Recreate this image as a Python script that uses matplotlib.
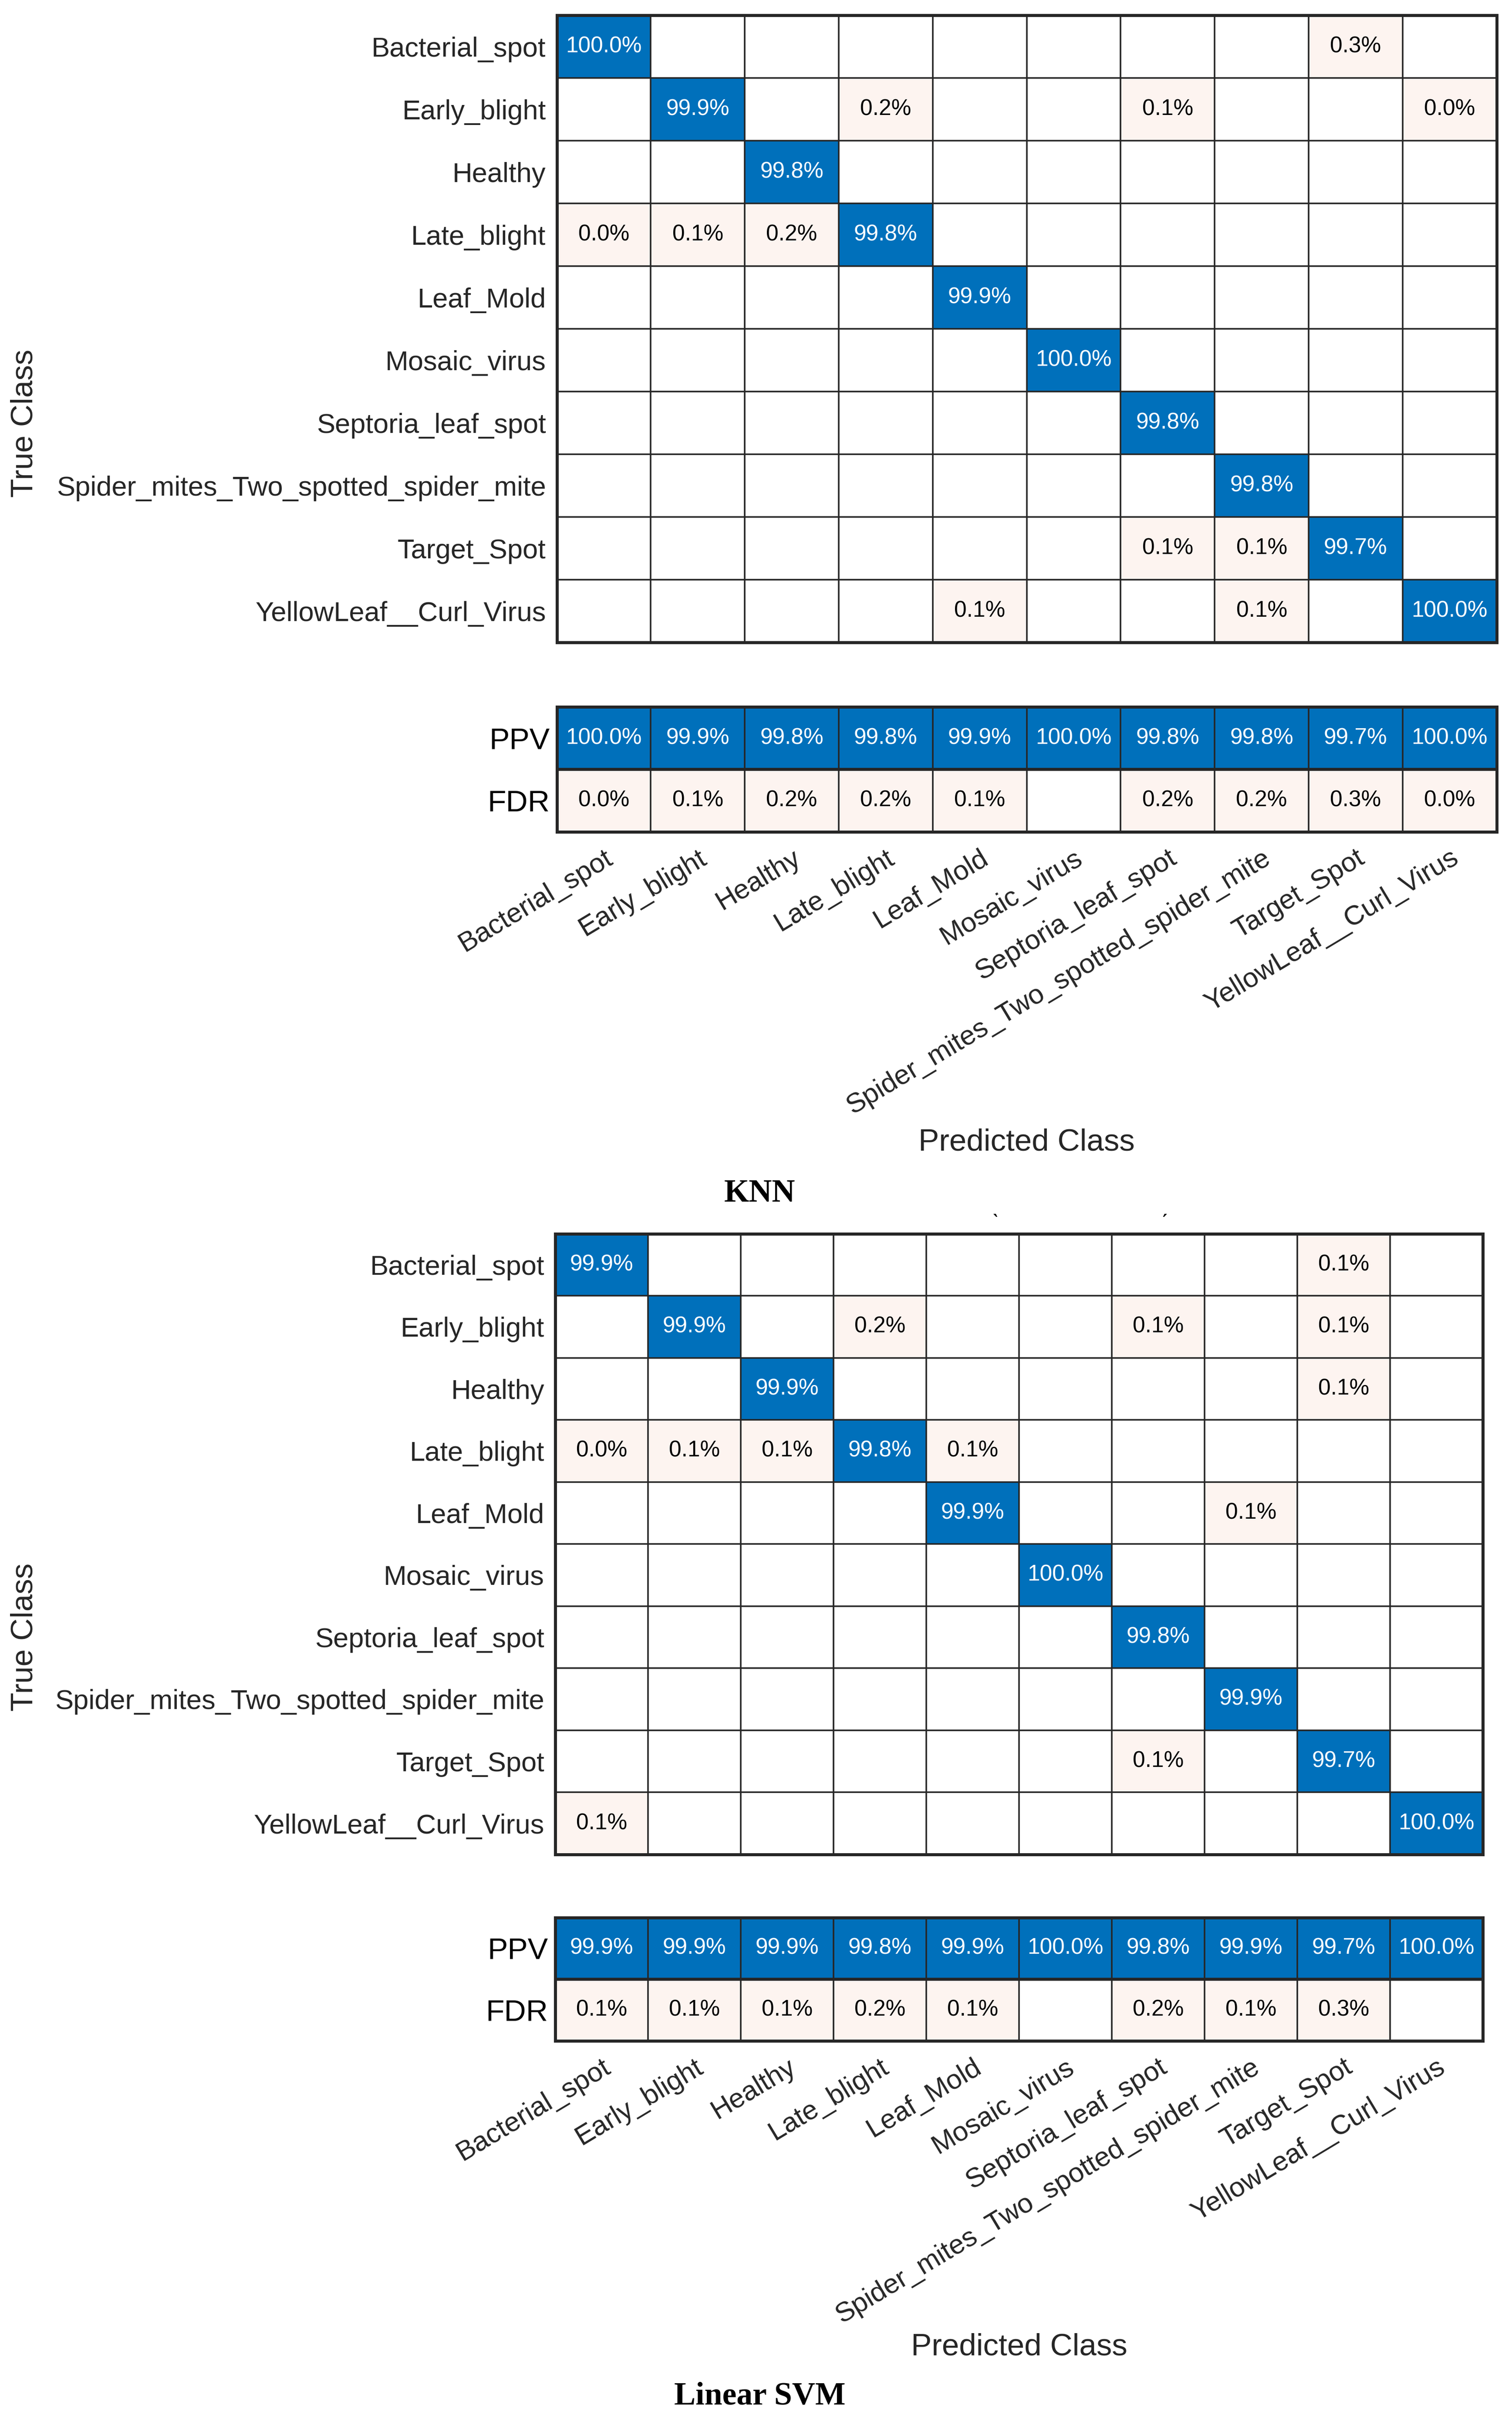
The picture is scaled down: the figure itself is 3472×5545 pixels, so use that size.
import numpy as np
import matplotlib.pyplot as plt
from matplotlib.colors import to_rgb

plt.rcParams['font.family'] = ['Liberation Sans', 'DejaVu Sans']

classes = ['Bacterial_spot', 'Early_blight', 'Healthy', 'Late_blight', 'Leaf_Mold',
           'Mosaic_virus', 'Septoria_leaf_spot', 'Spider_mites_Two_spotted_spider_mite',
           'Target_Spot', 'YellowLeaf__Curl_Virus']
n = np.nan

# column-normalized percentages, rows = true class, cols = predicted class
knn_cm = np.array([
    [100.0, n, n, n, n, n, n, n, 0.3, n],
    [n, 99.9, n, 0.2, n, n, 0.1, n, n, 0.0],
    [n, n, 99.8, n, n, n, n, n, n, n],
    [0.0, 0.1, 0.2, 99.8, n, n, n, n, n, n],
    [n, n, n, n, 99.9, n, n, n, n, n],
    [n, n, n, n, n, 100.0, n, n, n, n],
    [n, n, n, n, n, n, 99.8, n, n, n],
    [n, n, n, n, n, n, n, 99.8, n, n],
    [n, n, n, n, n, n, 0.1, 0.1, 99.7, n],
    [n, n, n, n, 0.1, n, n, 0.1, n, 100.0],
])
knn_ppv = [100.0, 99.9, 99.8, 99.8, 99.9, 100.0, 99.8, 99.8, 99.7, 100.0]
knn_fdr = [0.0, 0.1, 0.2, 0.2, 0.1, n, 0.2, 0.2, 0.3, 0.0]

svm_cm = np.array([
    [99.9, n, n, n, n, n, n, n, 0.1, n],
    [n, 99.9, n, 0.2, n, n, 0.1, n, 0.1, n],
    [n, n, 99.9, n, n, n, n, n, 0.1, n],
    [0.0, 0.1, 0.1, 99.8, 0.1, n, n, n, n, n],
    [n, n, n, n, 99.9, n, n, 0.1, n, n],
    [n, n, n, n, n, 100.0, n, n, n, n],
    [n, n, n, n, n, n, 99.8, n, n, n],
    [n, n, n, n, n, n, n, 99.9, n, n],
    [n, n, n, n, n, n, 0.1, n, 99.7, n],
    [0.1, n, n, n, n, n, n, n, n, 100.0],
])
svm_ppv = [99.9, 99.9, 99.9, 99.8, 99.9, 100.0, 99.8, 99.9, 99.7, 100.0]
svm_fdr = [0.1, 0.1, 0.1, 0.2, 0.1, n, 0.2, 0.1, 0.3, n]

BLUE = '#0070BB'
PINK = '#FDF4F0'
EDGE = '#262626'
LABEL = '#262626'
W, H = 3472, 5545


def cell_colors(vals):
    vals = np.atleast_2d(vals)
    img = np.ones(vals.shape + (3,))
    img[vals > 50] = to_rgb(BLUE)
    img[(vals <= 50) & ~np.isnan(vals)] = to_rgb(PINK)
    return img


def fill_cells(ax, vals, fs=37):
    vals = np.atleast_2d(vals)
    nr, nc = vals.shape
    ax.imshow(cell_colors(vals), aspect='auto', interpolation='nearest',
              extent=(-0.5, nc - 0.5, nr - 0.5, -0.5))
    for i in range(nr):
        for j in range(nc):
            v = vals[i, j]
            if np.isnan(v):
                continue
            ax.text(j, i, f'{v:.1f}%', ha='center', va='center', fontsize=fs,
                    color='white' if v > 50 else 'black')
    ax.vlines(np.arange(nc - 1) + 0.5, -0.5, nr - 0.5, color=EDGE, lw=2.6)
    ax.hlines(np.arange(nr - 1) + 0.5, -0.5, nc - 0.5, color=EDGE,
              lw=2.6 if nr > 2 else 5)
    for s in ax.spines.values():
        s.set_color(EDGE)
        s.set_linewidth(5)
    ax.set_xlim(-0.5, nc - 0.5)
    ax.set_ylim(nr - 0.5, -0.5)
    ax.tick_params(length=0)


def px(x0, y0, x1, y1):
    # display-scale box (983 x 1568 preview) -> figure fraction
    sx, sy = 983.0, 1568.0
    return [x0 / sx, 1 - y1 / sy, (x1 - x0) / sx, (y1 - y0) / sy]


def draw_chart(fig, cm, ppv, fdr, mbox, sbox, pred_y, true_y, title, title_y):
    ax = fig.add_axes(px(*mbox))
    fill_cells(ax, cm)
    ax.set_xticks([])
    ax.set_yticks(range(len(classes)))
    ax.set_yticklabels(classes, fontsize=45.5, color=LABEL)
    ax.tick_params(axis='y', pad=18)

    ax2 = fig.add_axes(px(*sbox))
    fill_cells(ax2, np.array([ppv, fdr]))
    ax2.set_yticks([0, 1])
    ax2.set_yticklabels(['PPV', 'FDR'], fontsize=50, color='black')
    ax2.tick_params(axis='y', pad=12)
    ax2.set_xticks(range(len(classes)))
    ax2.set_xticklabels(classes, fontsize=45.5, color=LABEL, rotation=31,
                        ha='right', va='top', rotation_mode='anchor')
    ax2.tick_params(axis='x', pad=22)

    fig.text((mbox[0] + mbox[2]) / 2 / 983.0 + 0.0, 1 - pred_y / 1568.0, 'Predicted Class',
             ha='center', va='center', fontsize=51, color=LABEL)
    fig.text(16 / 983.0, 1 - true_y / 1568.0, 'True Class', rotation=90,
             ha='center', va='center', fontsize=51, color=LABEL)
    fig.text(494 / 983.0, 1 - title_y / 1568.0, title, ha='center', va='center',
             fontsize=53, fontweight='bold', family='Liberation Serif')


fig = plt.figure(figsize=(W / 100, H / 100), dpi=100)

draw_chart(fig, knn_cm, knn_ppv, knn_fdr, (362, 10, 973, 417), (362, 459, 973, 540),
           742, 275, 'KNN', 775)
draw_chart(fig, svm_cm, svm_ppv, svm_fdr, (361, 801, 964, 1204), (361, 1245, 964, 1325),
           1524, 1063, 'Linear SVM', 1556)

# small stray marks above the second chart
fig.text(647 / 983.0, 1 - 795 / 1568.0, '\u02cb', ha='center', va='center', fontsize=36)
fig.text(757 / 983.0, 1 - 795 / 1568.0, '\u02ca', ha='center', va='center', fontsize=36)

fig.savefig('out.png', dpi=100, facecolor='white')
